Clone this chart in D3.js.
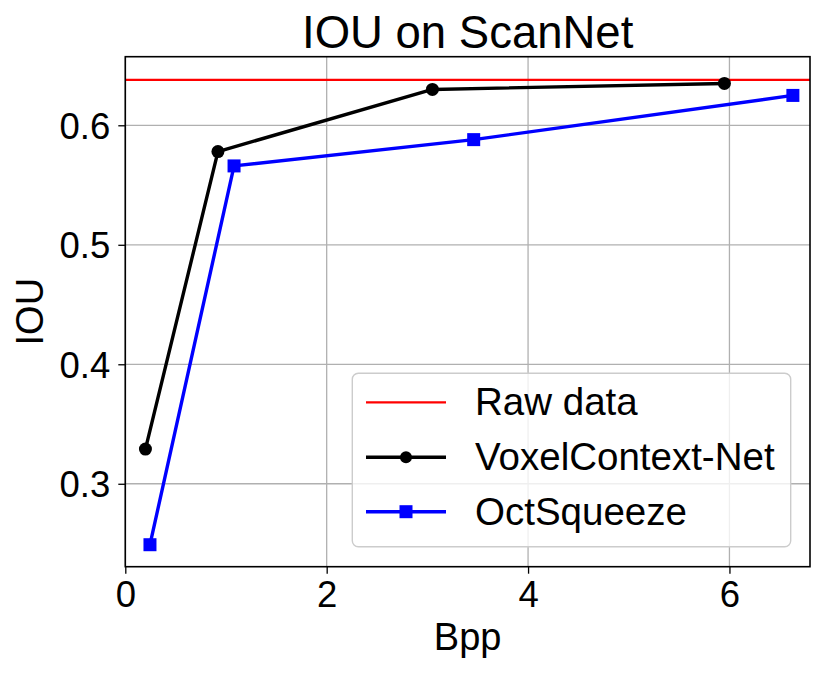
<!DOCTYPE html>
<html>
<head>
<meta charset="utf-8">
<script src="https://cdn.jsdelivr.net/npm/d3@7"></script>
<style>
  html, body { margin: 0; padding: 0; background: #fff; }
  svg { display: block; font-family: "Liberation Sans", Arial, sans-serif; }
</style>
</head>
<body>
<svg id="chart" width="830" height="673"></svg>
<script>
// ---- data ----
const title = "IOU on ScanNet";
const xLabel = "Bpp";
const yLabel = "IOU";
const rawData = 0.638;
const voxelBpp = [0.20, 0.92, 3.05, 5.95];
const voxelIou = [0.329, 0.578, 0.630, 0.635];
const octBpp = [0.245, 1.08, 3.46, 6.63];
const octIou = [0.249, 0.566, 0.588, 0.625];
const xTicks = [0, 2, 4, 6];
const yTicks = [0.3, 0.4, 0.5, 0.6];
const legendNames = ["Raw data", "VoxelContext-Net", "OctSqueeze"];

// ---- layout ----
const svg = d3.select("#chart");
const L = 125.3, R = 810, T = 56.7, B = 566.7;
const x = d3.scaleLinear().domain([0, 6.8]).range([L, R]);
const y = d3.scaleLinear().domain([0.2306, 0.6574]).range([B, T]);

// grid
const grid = svg.append("g");
grid.selectAll("line.gx").data(xTicks).join("line")
  .attr("x1", d => x(d)).attr("x2", d => x(d)).attr("y1", T).attr("y2", B)
  .attr("stroke", "#b0b0b0").attr("stroke-width", 1.3);
grid.selectAll("line.gy").data(yTicks).join("line")
  .attr("y1", d => y(d)).attr("y2", d => y(d)).attr("x1", L).attr("x2", R)
  .attr("stroke", "#b0b0b0").attr("stroke-width", 1.3);

// axes
const xAxis = d3.axisBottom(x).tickValues(xTicks).tickFormat(d3.format("d")).tickSize(7).tickPadding(6);
const yAxis = d3.axisLeft(y).tickValues(yTicks).tickFormat(d3.format(".1f")).tickSize(7).tickPadding(8);
const gx = svg.append("g").attr("transform", `translate(0,${B})`).call(xAxis);
const gy = svg.append("g").attr("transform", `translate(${L},0)`).call(yAxis);
[gx, gy].forEach(g => {
  g.select(".domain").remove();
  g.selectAll(".tick line").attr("stroke", "#000").attr("stroke-width", 1.3);
  g.selectAll(".tick text").attr("fill", "#000").style("font-size", "36.5px")
    .style("font-family", "'Liberation Sans', Arial, sans-serif");
});
gx.selectAll(".tick text").attr("dy", "0.74em");
gy.selectAll(".tick text").attr("dy", "0.36em");

// series
const lineGen = d3.line().x(d => x(d[0])).y(d => y(d[1]));
svg.append("line")
  .attr("x1", L).attr("x2", R).attr("y1", y(rawData)).attr("y2", y(rawData))
  .attr("stroke", "#ff0000").attr("stroke-width", 2.3);

const voxelPts = voxelBpp.map((v, i) => [v, voxelIou[i]]);
const octPts = octBpp.map((v, i) => [v, octIou[i]]);

svg.append("path").datum(voxelPts).attr("d", lineGen)
  .attr("fill", "none").attr("stroke", "#000").attr("stroke-width", 3.4).attr("stroke-linejoin", "round");
svg.selectAll("circle.vx").data(voxelPts).join("circle")
  .attr("cx", d => x(d[0])).attr("cy", d => y(d[1])).attr("r", 6.5).attr("fill", "#000");

svg.append("path").datum(octPts).attr("d", lineGen)
  .attr("fill", "none").attr("stroke", "#0000ff").attr("stroke-width", 3.4).attr("stroke-linejoin", "round");
const sq = 13;
svg.selectAll("rect.oc").data(octPts).join("rect")
  .attr("x", d => x(d[0]) - sq / 2).attr("y", d => y(d[1]) - sq / 2)
  .attr("width", sq).attr("height", sq).attr("fill", "#0000ff");

// frame
svg.append("rect").attr("x", L).attr("y", T).attr("width", R - L).attr("height", B - T)
  .attr("fill", "none").attr("stroke", "#000").attr("stroke-width", 1.6);

// legend
const lg = svg.append("g");
lg.append("rect").attr("x", 352.3).attr("y", 373.3).attr("width", 438.4).attr("height", 173.4)
  .attr("rx", 6).attr("fill", "#fff").attr("fill-opacity", 0.8)
  .attr("stroke", "#cccccc").attr("stroke-width", 1.4);
const rowsY = [402.3, 457.3, 511.7];
const legColors = ["#ff0000", "#000", "#0000ff"];
const legWidths = [2.3, 3.4, 3.4];
legendNames.forEach((name, i) => {
  lg.append("line").attr("x1", 366).attr("x2", 446).attr("y1", rowsY[i]).attr("y2", rowsY[i])
    .attr("stroke", legColors[i]).attr("stroke-width", legWidths[i]);
  if (i === 1) lg.append("circle").attr("cx", 406).attr("cy", rowsY[i]).attr("r", 6).attr("fill", "#000");
  if (i === 2) lg.append("rect").attr("x", 406 - sq / 2).attr("y", rowsY[i] - sq / 2)
    .attr("width", sq).attr("height", sq).attr("fill", "#0000ff");
  lg.append("text").attr("x", 475).attr("y", rowsY[i] + 13).text(name)
    .style("font-size", "38.5px").attr("fill", "#000");
});

// titles
svg.append("text").attr("x", (L + R) / 2).attr("y", 48).attr("text-anchor", "middle")
  .style("font-size", "45.5px").attr("fill", "#000").text(title);
svg.append("text").attr("x", (L + R) / 2).attr("y", 650).attr("text-anchor", "middle")
  .style("font-size", "38px").attr("fill", "#000").text(xLabel);
svg.append("text").attr("transform", `translate(43,${(T + B) / 2}) rotate(-90)`).attr("text-anchor", "middle")
  .style("font-size", "38px").attr("fill", "#000").text(yLabel);
</script>
</body>
</html>
